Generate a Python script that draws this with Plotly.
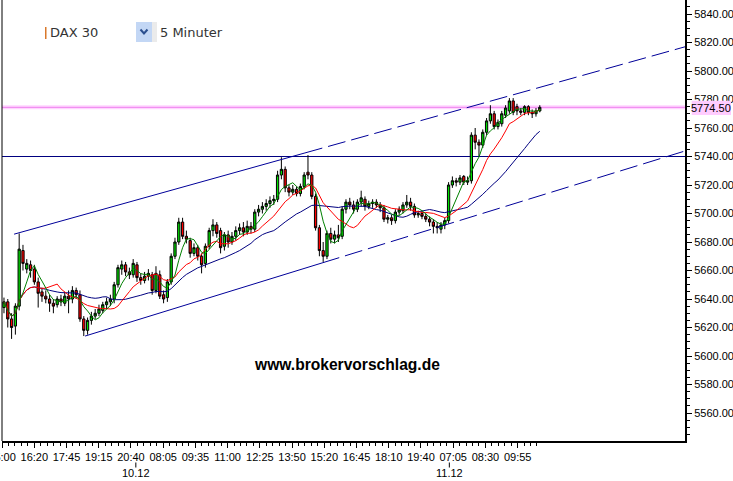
import plotly.graph_objects as go
import pandas as pd

# ---------------- data (10-minute candles) ----------------
opens = [5634, 5638, 5626, 5621, 5635, 5674, 5661, 5664, 5661, 5652,
         5645, 5642, 5640, 5637, 5636, 5640, 5637, 5642, 5640, 5646,
         5643, 5626, 5618, 5625, 5628, 5630, 5632, 5636, 5638, 5640,
         5650, 5661, 5664, 5659, 5657, 5664, 5655, 5653, 5656, 5657,
         5646, 5657, 5643, 5641, 5652, 5670, 5680, 5694, 5684, 5681,
         5672, 5676, 5670, 5665, 5677, 5688, 5692, 5688, 5677, 5685,
         5680, 5684, 5688, 5690, 5687, 5691, 5689, 5701, 5703, 5705,
         5707, 5709, 5710, 5727, 5731, 5718, 5715, 5717, 5714, 5719,
         5729, 5727, 5712, 5690, 5674, 5670, 5686, 5682, 5685, 5684,
         5703, 5708, 5706, 5703, 5708, 5710, 5705, 5707, 5708, 5706,
         5704, 5696, 5697, 5695, 5701, 5702, 5706, 5708, 5705, 5699,
         5700, 5698, 5696, 5694, 5691, 5689, 5692, 5695, 5720, 5723,
         5722, 5726, 5722, 5723, 5755, 5750, 5748, 5757, 5765, 5770,
         5761, 5763, 5769, 5772, 5779, 5775, 5772, 5771, 5775, 5771,
         5770, 5772]
highs = [5641, 5640, 5630, 5637, 5686, 5678, 5668, 5667, 5664, 5655,
         5648, 5646, 5643, 5640, 5642, 5643, 5645, 5646, 5649, 5648,
         5646, 5628, 5627, 5631, 5633, 5636, 5638, 5641, 5643, 5652,
         5664, 5667, 5666, 5662, 5668, 5666, 5658, 5659, 5661, 5659,
         5663, 5660, 5646, 5654, 5672, 5683, 5697, 5697, 5688, 5683,
         5679, 5678, 5672, 5679, 5690, 5696, 5694, 5690, 5687, 5688,
         5687, 5691, 5693, 5694, 5695, 5694, 5703, 5706, 5708, 5710,
         5712, 5713, 5730, 5739.5, 5733, 5720, 5720, 5719, 5721, 5729,
         5741, 5729, 5714, 5692, 5680, 5688, 5690, 5688, 5692, 5705,
         5710, 5711, 5709, 5710, 5716, 5712, 5709, 5710, 5710, 5708,
         5706, 5699, 5699, 5703, 5705, 5708, 5713, 5711, 5707, 5702,
         5702, 5700, 5698, 5696, 5694, 5694, 5697, 5722, 5726, 5725,
         5727, 5727, 5726, 5757, 5760, 5752, 5759, 5767, 5776, 5772,
         5766, 5772, 5776, 5781, 5781, 5777, 5774, 5776, 5776, 5773,
         5774, 5776]
lows = [5630, 5620, 5612, 5615, 5632, 5660, 5658, 5655, 5650, 5634,
        5638, 5637, 5631, 5630, 5634, 5635, 5635, 5630, 5637, 5640,
        5624, 5614, 5615, 5622, 5626, 5628, 5630, 5633, 5635, 5637,
        5648, 5657, 5656, 5654, 5655, 5652, 5650, 5651, 5653, 5643,
        5644, 5640, 5637, 5638, 5650, 5668, 5678, 5682, 5679, 5669,
        5670, 5667, 5658, 5662, 5675, 5684, 5683, 5672, 5674, 5676,
        5678, 5681, 5685, 5684, 5685, 5686, 5687, 5698, 5700, 5702,
        5704, 5706, 5708, 5724, 5715, 5712, 5713, 5712, 5712, 5717,
        5724, 5710, 5688, 5670, 5666, 5668, 5679, 5679, 5680, 5682,
        5700, 5703, 5700, 5701, 5705, 5702, 5703, 5704, 5704, 5701,
        5694, 5693, 5692, 5693, 5699, 5700, 5704, 5702, 5697, 5697,
        5696, 5694, 5691, 5686, 5686, 5686, 5689, 5693, 5718, 5719,
        5720, 5720, 5720, 5721, 5745, 5740, 5746, 5755, 5763, 5759,
        5759, 5761, 5767, 5770, 5769, 5769, 5769, 5769, 5769, 5767,
        5768, 5771]
closes = [5638, 5626, 5620, 5635, 5675, 5665, 5665, 5660, 5652, 5644,
          5642, 5640, 5637, 5635, 5640, 5638, 5642, 5640, 5646, 5643,
          5626, 5618, 5625, 5628, 5630, 5633, 5636, 5638, 5640, 5650,
          5662, 5664, 5659, 5657, 5665, 5655, 5653, 5656, 5658, 5646,
          5658, 5642, 5640, 5652, 5670, 5680, 5694, 5684, 5682, 5672,
          5676, 5670, 5664, 5677, 5688, 5692, 5686, 5676, 5685, 5680,
          5684, 5688, 5690, 5687, 5691, 5689, 5701, 5703, 5705, 5707,
          5709, 5710, 5727, 5731, 5718, 5715, 5717, 5714, 5719, 5727,
          5727, 5712, 5690, 5674, 5670, 5686, 5682, 5685, 5683, 5703,
          5708, 5706, 5703, 5708, 5711, 5705, 5707, 5708, 5706, 5704,
          5696, 5697, 5695, 5701, 5703, 5706, 5708, 5705, 5699, 5700,
          5698, 5696, 5694, 5691, 5690, 5692, 5695, 5720, 5723, 5722,
          5725, 5722, 5723, 5755, 5750, 5748, 5757, 5765, 5770, 5761,
          5764, 5770, 5774, 5779, 5771, 5772, 5771, 5775, 5771, 5770,
          5772, 5774.5]

tick_labels = ["15:00", "16:20", "17:45", "19:15", "20:40", "08:05", "09:35", "11:00",
               "12:25", "13:50", "15:20", "16:45", "18:10", "19:40", "07:05", "08:30", "09:55"]
date_labels = ["10.12", "11.12"]
y_tick_values = [5560, 5580, 5600, 5620, 5640, 5660, 5680, 5700, 5720, 5740,
                 5760, 5780, 5800, 5820, 5840]

ma_periods = {"fast": 5, "mid": 11, "slow": 24}
level_line = 5740
last_price = 5774.5
channel_upper = [(3.16, 5685.5), (79.7, 5742.5)]
channel_lower = [(21.84, 5614.0), (84.2, 5665.3)]

# ---------------- layout geometry ----------------
W, H = 733, 481
ML, MR, MT, MB = 2, 48, 0, 40
PW, PH = W - ML - MR, H - MT - MB
BAR_PX = 3.8
X_MAX = PW / BAR_PX
TICK_STEP = 8.48
date_pos = [35.2, 117.7]


def px_x(px):
    return (px - ML) / PW


def px_y(py):
    return 1 - (py - MT) / PH


xs = [i + 0.5 for i in range(len(closes))]
cs = pd.Series(closes)
ma_fast = cs.rolling(ma_periods["fast"], min_periods=1).mean()
ma_mid = cs.rolling(ma_periods["mid"], min_periods=1).mean()
ma_slow = cs.rolling(ma_periods["slow"], min_periods=1).mean()

fig = go.Figure()


def extend(p0, p1, xe):
    s = (p1[1] - p0[1]) / (p1[0] - p0[0])
    return p0[1] + s * (xe - p0[0])


CH_COL = "#000099"
for ch in (channel_upper, channel_lower):
    fig.add_trace(go.Scatter(x=[ch[0][0], ch[1][0]], y=[ch[0][1], ch[1][1]], mode="lines",
                             line=dict(color=CH_COL, width=1), hoverinfo="skip", showlegend=False))
    fig.add_trace(go.Scatter(x=[ch[1][0], X_MAX], y=[ch[1][1], extend(ch[0], ch[1], X_MAX)],
                             mode="lines", line=dict(color=CH_COL, width=1, dash="18px,6px"),
                             hoverinfo="skip", showlegend=False))

fig.add_trace(go.Candlestick(
    x=xs, open=opens, high=highs, low=lows, close=closes,
    increasing=dict(line=dict(color="black", width=1), fillcolor="#00e000"),
    decreasing=dict(line=dict(color="black", width=1), fillcolor="#ff0000"),
    whiskerwidth=0, hoverinfo="skip", showlegend=False))

fig.add_trace(go.Scatter(x=xs, y=ma_slow, mode="lines", line=dict(color="#000080", width=1),
                         hoverinfo="skip", showlegend=False))
fig.add_trace(go.Scatter(x=xs, y=ma_mid, mode="lines", line=dict(color="#ff0000", width=1),
                         hoverinfo="skip", showlegend=False))
fig.add_trace(go.Scatter(x=xs, y=ma_fast, mode="lines", line=dict(color="#008000", width=1),
                         hoverinfo="skip", showlegend=False))

shapes = [
    dict(type="line", xref="paper", yref="paper", x0=0, x1=0, y0=0, y1=1,
         line=dict(color="black", width=1), layer="above"),
    dict(type="line", xref="paper", yref="y", x0=0, x1=1, y0=level_line, y1=level_line,
         line=dict(color="#000080", width=1), layer="below"),
    dict(type="line", xref="paper", yref="y", x0=0, x1=1, y0=last_price, y1=last_price,
         line=dict(color="#ffd4ff", width=4), layer="below"),
    dict(type="line", xref="paper", yref="y", x0=0, x1=1, y0=last_price, y1=last_price,
         line=dict(color="#ee82ee", width=1), layer="below"),
    # price label box
    dict(type="rect", xref="paper", yref="paper", x0=px_x(691.7), x1=px_x(731),
         y0=px_y(115), y1=px_y(100.7), fillcolor="#ffccff", line=dict(width=0), layer="above"),
    # header decorations
    dict(type="rect", xref="paper", yref="paper", x0=px_x(45), x1=px_x(46.5),
         y0=px_y(39), y1=px_y(27), fillcolor="#d9782b", line=dict(width=0), layer="above"),
    dict(type="rect", xref="paper", yref="paper", x0=px_x(136), x1=px_x(152),
         y0=px_y(42), y1=px_y(22), fillcolor="#c3d7f5", line=dict(width=0), layer="above"),
    dict(type="rect", xref="paper", yref="paper", x0=px_x(152), x1=px_x(157),
         y0=px_y(42), y1=px_y(22), fillcolor="#ebebeb", line=dict(width=0), layer="above"),
    dict(type="path", xref="paper", yref="paper",
         path="M {},{} L {},{} L {},{}".format(px_x(140.5), px_y(29.5), px_x(144), px_y(33.5),
                                               px_x(147.5), px_y(29.5)),
         line=dict(color="#2b4f8f", width=2), layer="above"),
]
for dp in date_pos:
    shapes.append(dict(type="line", xref="x", yref="paper", x0=dp, x1=dp,
                       y0=px_y(462.5), y1=px_y(467.5), line=dict(color="black", width=1)))

annotations = [
    dict(text="www.brokervorschlag.de", xref="paper", yref="paper", x=px_x(346.5), y=px_y(364),
         xanchor="center", yanchor="middle", showarrow=False,
         font=dict(family="Liberation Sans, Arial", size=15.6, color="black", weight="bold")),
    dict(text="DAX 30", xref="paper", yref="paper", x=px_x(47.5), y=px_y(33),
         xanchor="left", yanchor="middle", showarrow=False,
         font=dict(family="DejaVu Sans", size=13, color="#333333")),
    dict(text="5 Minuter", xref="paper", yref="paper", x=px_x(157.5), y=px_y(33),
         xanchor="left", yanchor="middle", showarrow=False,
         font=dict(family="DejaVu Sans", size=13, color="#333333")),
    dict(text="%.2f" % last_price, xref="paper", yref="paper", x=px_x(711.3), y=px_y(108),
         xanchor="center", yanchor="middle", showarrow=False,
         font=dict(family="Liberation Sans, Arial", size=11, color="black")),
]
for dp, dl in zip(date_pos, date_labels):
    annotations.append(dict(text=dl, xref="x", yref="paper", x=dp, y=px_y(472.5),
                            xanchor="center", yanchor="middle", showarrow=False,
                            font=dict(family="Liberation Sans, Arial", size=11, color="black")))

major_vals = [k * TICK_STEP for k in range(len(tick_labels))]
minor_vals = [j * TICK_STEP / 5 for j in range(0, 84)]

fig.update_layout(
    width=W, height=H, margin=dict(l=ML, r=MR, t=MT, b=MB, autoexpand=False),
    paper_bgcolor="white", plot_bgcolor="white",
    showlegend=False, boxgap=0.15,
    shapes=shapes, annotations=annotations,
    xaxis=dict(range=[-0.02, X_MAX - 0.02], type="linear", showgrid=False, zeroline=False,
               automargin=False,
               showline=True, linecolor="black", linewidth=2,
               ticks="outside", ticklen=5, tickwidth=1, tickcolor="black",
               tickvals=major_vals, ticktext=tick_labels, ticklabeloverflow="allow",
               tickfont=dict(family="Liberation Sans, Arial", size=11, color="black"),
               minor=dict(tickvals=minor_vals, ticks="outside", ticklen=3, tickcolor="black", tickwidth=1),
               rangeslider=dict(visible=False), fixedrange=True),
    yaxis=dict(range=[5540.35, 5849.83], side="right", showgrid=False, zeroline=False,
               automargin=False,
               showline=True, linecolor="black", linewidth=2,
               ticks="outside", ticklen=5, tickwidth=1, tickcolor="black",
               tickvals=y_tick_values, tickformat=".2f", ticklabeloverflow="allow",
               tickfont=dict(family="Liberation Sans, Arial", size=11, color="black"),
               minor=dict(dtick=5, ticks="outside", ticklen=3, tickcolor="black", tickwidth=1),
               fixedrange=True),
)

fig.write_html("out.html", config={"displayModeBar": False},
               post_script="document.body.style.margin='0px';document.body.style.padding='0px';")
